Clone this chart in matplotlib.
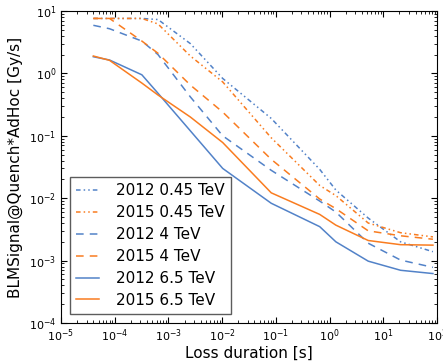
import numpy as np
import matplotlib
matplotlib.use('Agg')
import matplotlib.pyplot as plt

# Running sum integration times [s]
duration = [4e-5, 8e-5, 3.2e-4, 6.4e-4, 2.56e-3, 1.024e-2,
             8.192e-2, 0.655, 1.31, 5.24, 20.97, 83.89]

# Thresholds per energy / year
t2012_045 = [7.6, 7.6, 7.6, 7.3, 3.0, 0.83, 0.19, 0.029, 0.0135, 0.0048, 0.0020, 0.00139]
t2015_045 = [7.6, 7.6, 7.6, 6.2, 1.9, 0.73, 0.093, 0.016, 0.011, 0.0040, 0.0028, 0.0024]
t2012_4 = [5.9, 5.2, 3.3, 2.0, 0.42, 0.10, 0.028, 0.0090, 0.0060, 0.0019, 0.00102, 0.00078]
t2015_4 = [7.6, 7.6, 3.3, 2.1, 0.65, 0.24, 0.042, 0.0097, 0.0068, 0.0030, 0.0025, 0.0022]
t2012_65 = [1.85, 1.64, 0.95, 0.48, 0.12, 0.030, 0.0083, 0.0035, 0.0020, 0.00098, 0.00070, 0.00062]
t2015_65 = [1.9, 1.62, 0.70, 0.45, 0.20, 0.078, 0.0122, 0.0055, 0.0037, 0.0021, 0.00180, 0.00177]

blue = '#5282c8'
orange = '#f97c20'
dashdotdot = (0, (3, 2, 1, 2, 1, 2))

fig = plt.figure(figsize=(4.43, 3.62), dpi=100)
ax = fig.add_axes([0.1377, 0.1077, 0.8488, 0.8619])

ax.plot(duration, t2012_045, color=blue, linestyle=dashdotdot, lw=1.1, label='2012 0.45 TeV')
ax.plot(duration, t2015_045, color=orange, linestyle=dashdotdot, lw=1.1, label='2015 0.45 TeV')
ax.plot(duration, t2012_4, color=blue, linestyle=(0, (5, 4)), lw=1.1, label='2012 4 TeV')
ax.plot(duration, t2015_4, color=orange, linestyle=(0, (5, 4)), lw=1.1, label='2015 4 TeV')
ax.plot(duration, t2012_65, color=blue, lw=1.1, label='2012 6.5 TeV')
ax.plot(duration, t2015_65, color=orange, lw=1.1, label='2015 6.5 TeV')

ax.set_xscale('log')
ax.set_yscale('log')
ax.set_xlim(1e-5, 1e2)
ax.set_ylim(1e-4, 1e1)
ax.tick_params(which='both', direction='in', top=True, right=True, labelsize=8)
ax.tick_params(which='major', length=4)
ax.tick_params(which='minor', length=2)
ax.set_xlabel('Loss duration [s]', fontsize=11, labelpad=1)
ax.set_ylabel('BLMSignal@Quench*AdHoc [Gy/s]', fontsize=11)

leg = ax.legend(loc='lower left', fontsize=11, handlelength=1.5, handletextpad=1.1,
                borderaxespad=0.6, fancybox=False, labelspacing=0.45)
leg.get_frame().set_edgecolor('#333333')
leg.get_frame().set_linewidth(1.0)

fig.savefig('out.png', dpi=100)
